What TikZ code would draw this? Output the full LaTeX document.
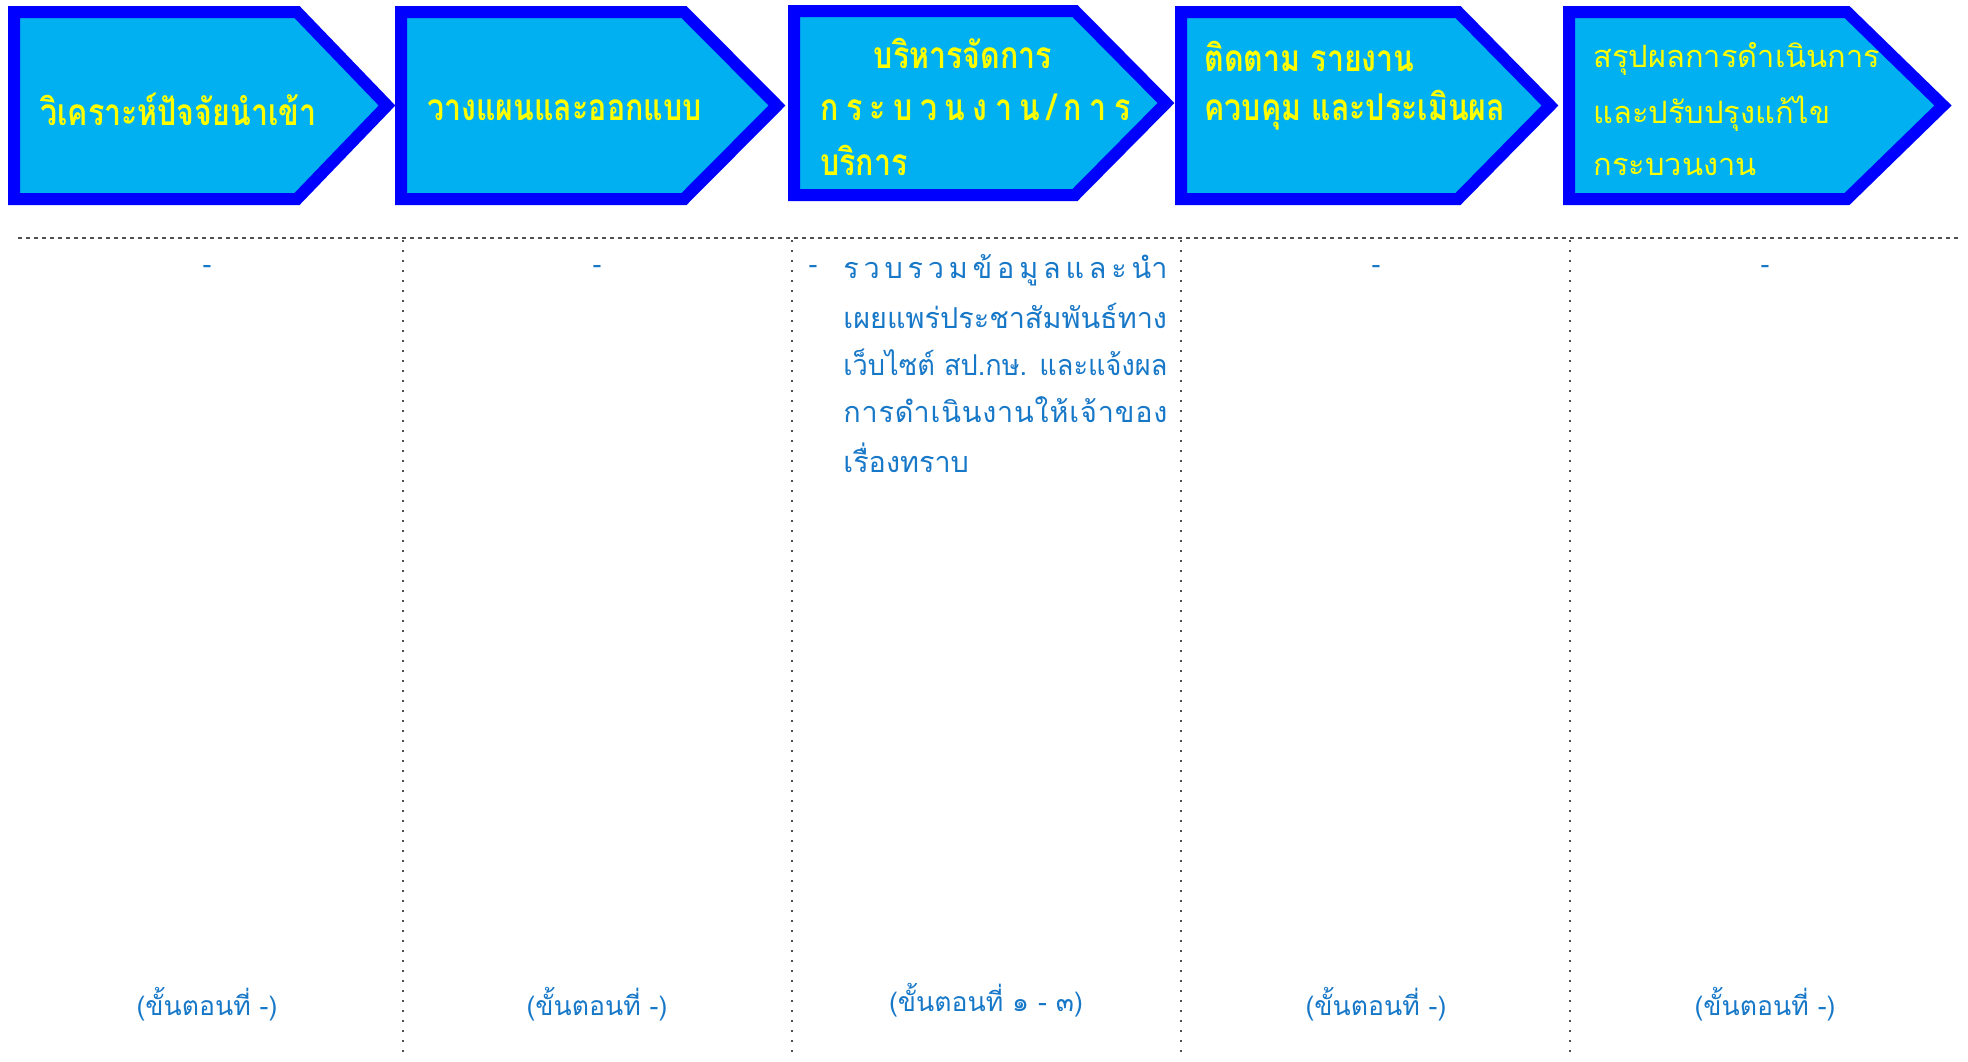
\documentclass[tikz,border=0pt]{standalone}
\usepackage{fontspec}
\newfontfamily\thai[Script=Thai]{Loma}
\newfontfamily\thaicond[Script=Thai, FakeStretch=0.82]{Loma}
\definecolor{boxfill}{HTML}{00B0F0}
\definecolor{boxline}{HTML}{0000FF}
\definecolor{boxtext}{HTML}{FFFF00}
\definecolor{bodytext}{HTML}{1878C8}
\definecolor{gridline}{HTML}{505050}
\tikzset{
  chev/.style={draw=boxline, fill=boxfill, line width=6pt, line join=miter},
  boxlbl/.style={inner sep=0pt, anchor=west, text=boxtext, font=\thaicond\bfseries\fontsize{18.5}{22}\selectfont},
  boxlblb/.style={inner sep=0pt, anchor=west, text=boxtext, font=\thai\fontsize{15.4}{18}\selectfont},
  bodylbl/.style={inner sep=0pt, anchor=west, text=bodytext, font=\thai\fontsize{14.4}{17}\selectfont},
  steplbl/.style={inner sep=0pt, anchor=center, text=bodytext, font=\thai\fontsize{13.3}{16}\selectfont},
  hgrid/.style={draw=gridline, line width=0.7pt, dash pattern=on 2pt off 2pt},
  vgrid/.style={draw=gridline, line width=0.8pt, dash pattern=on 1pt off 4pt}
}
\begin{document}
\begin{tikzpicture}[x=0.5pt,y=-0.5pt]
\useasboundingbox (0,0) rectangle (1968,1061);
% chevrons
\draw[chev] (14,12) -- (297,12) -- (387,105.5) -- (297,199) -- (14,199) -- cycle;
\draw[chev] (401,12) -- (684,12) -- (777,105.5) -- (684,199) -- (401,199) -- cycle;
\draw[chev] (794,11) -- (1075,11) -- (1166,103) -- (1075,195) -- (794,195) -- cycle;
\draw[chev] (1181,12) -- (1458,12) -- (1550,105.5) -- (1458,199) -- (1181,199) -- cycle;
\draw[chev] (1569,12) -- (1847,12) -- (1943,105.5) -- (1847,199) -- (1569,199) -- cycle;
% box texts
\node[boxlbl] (b1) at (40,109) {วิเคราะห์ปัจจัยนำเข้า};
\node[boxlbl] (b2) at (427,110) {วางแผนและออกแบบ};
\node[boxlbl, anchor=center] (b3a) at (963,53) {บริหารจัดการ};
\node[boxlbl] (b3b) at (820,107) {\makebox[155pt][s]{ก\hfill ร\hfill ะ\hfill บ\hfill ว\hfill น\hfill ง\hfill า\hfill น\hfill /\hfill ก\hfill า\hfill ร}};
\node[boxlbl] (b3c) at (820,160) {บริการ};
\node[boxlbl] (b4a) at (1204,56) {ติดตาม รายงาน};
\node[boxlbl] (b4b) at (1204,110) {ควบคุม และประเมินผล};
\node[boxlblb] (b5a) at (1593,59) {สรุปผลการดำเนินการ};
\node[boxlblb] (b5b) at (1593,114) {และปรับปรุงแก้ไข};
\node[boxlblb] (b5c) at (1593,167) {กระบวนงาน};
% grid
\draw[hgrid] (18,238) -- (1958,238);
\foreach \gx in {403,792,1181,1570} {\draw[vgrid] (\gx,240) -- (\gx,1052);}
% column contents
\node[steplbl] (d1) at (207,269) {-};
\node[steplbl] (d2) at (597,269) {-};
\node[steplbl] (d4) at (1376,269) {-};
\node[steplbl] (d5) at (1765,269) {-};
\node[steplbl] (d3) at (813,269) {-};
\node[bodylbl] (t1) at (843,270) {\makebox[162pt][s]{ร\hfill ว\hfill บ\hfill ร\hfill ว\hfill ม\hfill ข้\hfill อ\hfill มู\hfill ล\hfill แ\hfill ล\hfill ะ\hfill นำ}};
\node[bodylbl] (t2) at (843,316) {\makebox[162pt][s]{เผยแพร่ประชาสัมพันธ์ทาง}};
\node[bodylbl] (t3) at (843,362) {\resizebox{162pt}{\height}{เว็บไซต์ สป.กษ. และแจ้งผล}};
\node[bodylbl] (t4) at (843,410) {\makebox[162pt][s]{ก\hfill า\hfill ร\hfill ดำ\hfill เ\hfill นิ\hfill น\hfill ง\hfill า\hfill น\hfill ใ\hfill ห้\hfill เ\hfill จ้\hfill า\hfill ข\hfill อ\hfill ง}};
\node[bodylbl] (t5) at (843,458) {เรื่องทราบ};
\node[steplbl] (s1) at (207,1004) {(ขั้นตอนที่ -)};
\node[steplbl] (s2) at (597,1004) {(ขั้นตอนที่ -)};
\node[steplbl] (s3) at (986,1000) {(ขั้นตอนที่ ๑ - ๓)};
\node[steplbl] (s4) at (1376,1004) {(ขั้นตอนที่ -)};
\node[steplbl] (s5) at (1765,1004) {(ขั้นตอนที่ -)};
\end{tikzpicture}
\end{document}
